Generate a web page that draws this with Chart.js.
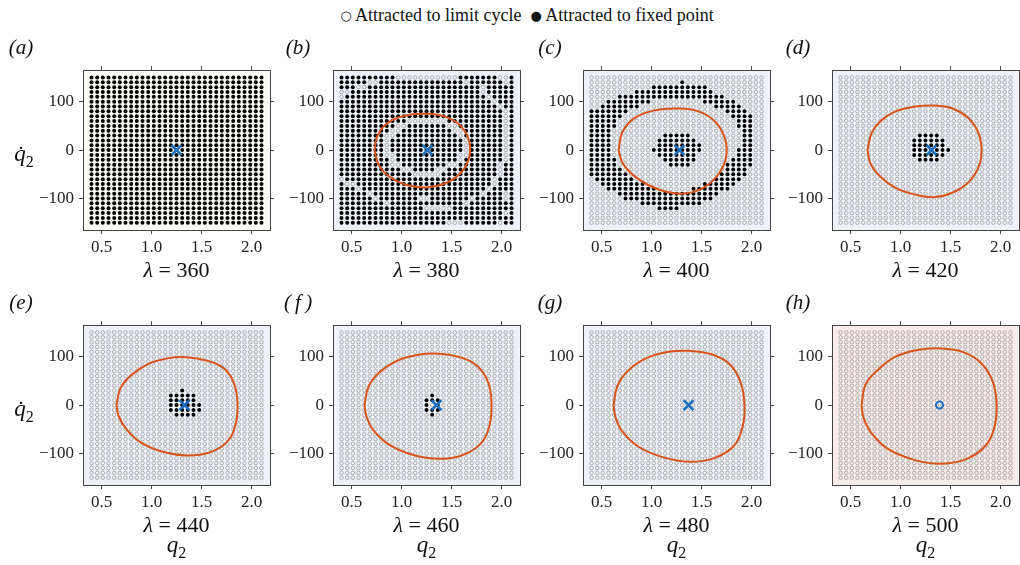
<!DOCTYPE html>
<html lang="en">
<head>
<meta charset="UTF-8">
<title>Basins of attraction</title>
<script src="https://cdn.jsdelivr.net/npm/chart.js"></script>
<style>
    body { margin: 0; background: #fff; font-family: 'Liberation Serif', serif; }
    #page { position: relative; width: 1020px; height: 565px; overflow: hidden; }
    .panel { position: absolute; width: 252px; height: 205px; }
    .lbl { position: absolute; transform: translate(-50%, -50%); white-space: nowrap; color: #111; }
    .letter { font-size: 21px; font-style: italic; }
    .lam { font-size: 22px; }
    .axl { font-size: 23px; }
    .legend { font-size: 18px; }
    .legend .mk { font-family: 'DejaVu Sans', sans-serif; font-size: 13px; position: relative; top: -1px; }
</style>
</head>
<body>
<div id="page">
    <div class="lbl legend" style="left:527px; top:15px;">
        <span class="mk">○</span> Attracted to limit cycle &nbsp;<span class="mk">●</span> Attracted to fixed point
    </div>
</div>

<script>
// grid of initial conditions
const qGrid = [0.4, 0.457, 0.513, 0.57, 0.627, 0.683, 0.74, 0.797, 0.853, 0.91, 0.967,
    1.023, 1.08, 1.137, 1.193, 1.25, 1.307, 1.363, 1.42, 1.477, 1.533, 1.59, 1.647,
    1.703, 1.76, 1.817, 1.873, 1.93, 1.987, 2.043, 2.1];
const qdGrid = [150, 140, 130, 120, 110, 100, 90, 80, 70, 60, 50, 40, 30, 20, 10, 0,
    -10, -20, -30, -40, -50, -60, -70, -80, -90, -100, -110, -120, -130, -140, -150];

const panelLetters = ['a', 'b', 'c', 'd', 'e', 'f', 'g', 'h'];
const lambdas = [360, 380, 400, 420, 440, 460, 480, 500];
const fixedQ = [1.25, 1.26, 1.28, 1.31, 1.33, 1.35, 1.37, 1.39];
const xTicks = [0.5, 1.0, 1.5, 2.0];
const yTicks = [-100, 0, 100];

// basin maps, top row (qdot = 150) first; 1 = attracted to fixed point
const basinB = [
    '1111111111000000000001111111001',
    '1111100111111111111111011111101',
    '1110011111111111111111111011111',
    '0011111111111111111111111011111',
    '0111111111111111111111111101111',
    '1111111111111111111111111110111',
    '1111111111111111111111111111011',
    '1111111111111111111111111111101',
    '1111111111111111111111111111101',
    '1111111111110000000111111111101',
    '1111111111001111111001111111101',
    '1111111110011111111100111111101',
    '1111111100111111111110111111101',
    '1111111101111111111111011111101',
    '1111111101111111111111011111101',
    '1111111101111111111111011111101',
    '1111111100111111111110011111101',
    '1111111110111111111110111111101',
    '1111111110011111111001111111011',
    '1111111111100111100111111111011',
    '1111111111111000001111111111011',
    '0111111111111111111111111110111',
    '1001111111111111111111111110111',
    '1110111111111111111111111101111',
    '1111101111111111111111111011101',
    '1111110111111100111111101111101',
    '1111111101111111111111011111111',
    '1111111111111110000011111111111',
    '1111111111111111111111111111101',
    '1111111111111111111111111111111',
    '1111111111111111111000111111011'
];
const basinC = [
    '0000000000000000000000000000000',
    '0000000000000000100000000000000',
    '0000000000011111111110000000000',
    '0000000011111111111111000000000',
    '0000011111111111111111110000000',
    '0001111111100000000011111100000',
    '0011111110000000000000111110000',
    '1111111000000000000000001111000',
    '1111110000000000000000000111100',
    '1111100000000000000000000011100',
    '1111100000000000000000000011100',
    '1111000000000000000000000001100',
    '1111000000000111110000000001100',
    '1111000000001111111000000001100',
    '1111000000001111111100000001100',
    '1111000000011111111100000011100',
    '1111000000001111111000000011100',
    '1111100000000111111000000111100',
    '1111100000000011110000001111100',
    '1111110000000000000000001111000',
    '1111111000000000000000011111000',
    '0111111100000000000000111110000',
    '0011111111000000000011111100000',
    '0001111111110000001111111000000',
    '0000011111111111111111100000000',
    '0000001111111111111111000000000',
    '0000000001111111111100000000000',
    '0000000000001111000000000000000',
    '0000000000000000000000000000000',
    '0000000000000000000000000000000',
    '0000000000000000000000000000000'
];
// small central basins: [row, first col, last col]
const blobD = [[12, 14, 17], [13, 13, 18], [14, 13, 18], [15, 13, 19], [16, 13, 18], [17, 14, 17]];
const blobE = [[12, 16, 16], [13, 14, 18], [14, 14, 18], [15, 14, 19], [16, 14, 19], [17, 15, 18]];
const blobF = [[13, 16, 16], [14, 15, 17], [15, 15, 15], [15, 17, 17], [16, 15, 17], [17, 16, 16]];

// limit cycles [q2, qdot2]
const cycleB = [[0.73, 0], [0.76, 30], [0.86, 56], [1.03, 71], [1.25, 75], [1.45, 68], [1.6, 48],
    [1.68, 15], [1.67, -20], [1.58, -50], [1.42, -70], [1.25, -77], [1.05, -72], [0.88, -55],
    [0.77, -30], [0.73, 0]];
const cycleC = [[0.67, 0], [0.71, 38], [0.83, 66], [1.03, 82], [1.27, 86], [1.47, 80], [1.64, 58],
    [1.74, 20], [1.74, -20], [1.65, -55], [1.5, -80], [1.3, -90], [1.08, -82], [0.87, -60],
    [0.72, -30], [0.67, 0]];
const cycleD = [[0.67, 0], [0.71, 35], [0.8, 60], [0.95, 80], [1.15, 90], [1.34, 92], [1.52, 86],
    [1.67, 68], [1.77, 40], [1.81, 5], [1.79, -30], [1.7, -62], [1.55, -85], [1.35, -97],
    [1.15, -92], [0.95, -78], [0.8, -55], [0.7, -28], [0.67, 0]];
const cycleE = [[0.65, 0], [0.69, 35], [0.8, 62], [0.97, 85], [1.17, 97], [1.35, 99], [1.55, 92],
    [1.73, 75], [1.83, 42], [1.86, 0], [1.84, -40], [1.76, -75], [1.58, -98], [1.35, -104],
    [1.12, -97], [0.9, -78], [0.75, -50], [0.67, -22], [0.65, 0]];
const cycleF = [[0.63, 0], [0.67, 38], [0.78, 68], [0.96, 92], [1.17, 104], [1.37, 106], [1.58, 99],
    [1.76, 80], [1.87, 45], [1.9, 0], [1.88, -42], [1.79, -80], [1.6, -104], [1.37, -111],
    [1.12, -103], [0.88, -82], [0.72, -52], [0.65, -24], [0.63, 0]];
const cycleG = [[0.62, 0], [0.66, 40], [0.77, 72], [0.95, 97], [1.17, 110], [1.38, 112], [1.6, 105],
    [1.78, 85], [1.89, 48], [1.93, 0], [1.91, -45], [1.82, -85], [1.62, -110], [1.38, -117],
    [1.12, -108], [0.87, -86], [0.71, -55], [0.64, -25], [0.62, 0]];
const cycleH = [[0.61, 0], [0.65, 42], [0.77, 72], [0.95, 100], [1.17, 114], [1.4, 117], [1.62, 110],
    [1.8, 88], [1.92, 50], [1.96, 5], [1.94, -45], [1.85, -84], [1.65, -112], [1.38, -121],
    [1.12, -112], [0.87, -90], [0.71, -58], [0.63, -26], [0.61, 0]];

const cycles = [null, cycleB, cycleC, cycleD, cycleE, cycleF, cycleG, cycleH];
const bgColors = ['#fbfbf5', '#eef1f7', '#eef1f7', '#eef1f7', '#eef1f7', '#eef1f7', '#eef1f7', '#f7ecea'];

const plotLefts = [83, 333, 583, 832];
const plotTops = [65, 320];
const plotW = 187, plotH = 165;
const CW = 252, CH = 205;
const FONT = "'Liberation Serif', serif";

function blobRows(runs) {
    const rows = qdGrid.map(() => Array(qGrid.length).fill('0'));
    runs.forEach(([r, c0, c1]) => { for (let c = c0; c <= c1; c++) rows[r][c] = '1'; });
    return rows.map(r => r.join(''));
}

const basins = [
    qdGrid.map(() => '1'.repeat(qGrid.length)),
    basinB,
    basinC,
    blobRows(blobD),
    blobRows(blobE),
    blobRows(blobF),
    blobRows([]),
    blobRows([])
];

const areaBg = {
    id: 'areaBg',
    beforeDraw(chart, args, opts) {
        const a = chart.chartArea;
        const ctx = chart.ctx;
        ctx.save();
        ctx.fillStyle = opts.color;
        ctx.fillRect(a.left, a.top, a.right - a.left, a.bottom - a.top);
        ctx.restore();
    }
};

const page = document.getElementById('page');

function addLabel(html, cls, x, y) {
    const d = document.createElement('div');
    d.className = 'lbl ' + cls;
    d.style.left = x + 'px';
    d.style.top = y + 'px';
    d.innerHTML = html;
    page.appendChild(d);
}

function axisCfg(pos, min, max, ticks, fmt, size) {
    const horiz = pos === 'top' || pos === 'bottom';
    const main = pos === 'bottom' || pos === 'left';
    return {
        type: 'linear',
        position: pos,
        min: min,
        max: max,
        afterBuildTicks: s => { s.ticks = ticks.map(v => ({ value: v })); },
        afterFit: s => { if (horiz) s.height = size; else s.width = size; },
        ticks: {
            display: main,
            autoSkip: false,
            maxRotation: 0,
            padding: horiz ? 3 : 5,
            color: '#222',
            font: { family: FONT, size: 17 },
            callback: v => main ? fmt(v) : ''
        },
        grid: { drawOnChartArea: false, tickLength: 4, color: '#444', tickWidth: 1 },
        border: { display: true, color: '#444', width: 1 }
    };
}

function makePanel(i) {
    const col = i % 4, row = Math.floor(i / 4);
    const left = plotLefts[col], top = plotTops[row];

    const box = document.createElement('div');
    box.className = 'panel';
    box.style.left = (left - 55) + 'px';
    box.style.top = (top - 10) + 'px';
    const cv = document.createElement('canvas');
    cv.width = CW;
    cv.height = CH;
    box.appendChild(cv);
    page.appendChild(box);

    const filled = [], open = [];
    basins[i].forEach((line, r) => {
        for (let c = 0; c < line.length; c++) {
            const p = { x: qGrid[c], y: qdGrid[r] };
            (line[c] === '1' ? filled : open).push(p);
        }
    });

    const datasets = [];
    const stable = i < 7;
    datasets.push({
        data: [{ x: fixedQ[i], y: 0 }],
        pointStyle: stable ? 'crossRot' : 'circle',
        pointRadius: stable ? 7 : 3.5,
        borderWidth: stable ? 2.6 : 2,
        borderColor: '#1a6fbf',
        backgroundColor: 'rgba(0,0,0,0)',
        order: 0
    });
    if (cycles[i]) {
        datasets.push({
            data: cycles[i].map(([x, y]) => ({ x, y })),
            showLine: true,
            pointRadius: 0,
            borderColor: '#d9541a',
            borderWidth: 2,
            tension: 0.4,
            order: 1
        });
    }
    datasets.push({
        data: filled,
        pointStyle: 'circle',
        pointRadius: 2,
        borderWidth: 0,
        backgroundColor: '#000',
        order: 2
    });
    datasets.push({
        data: open,
        pointStyle: 'circle',
        pointRadius: 1.8,
        borderWidth: 0.7,
        borderColor: '#949494',
        backgroundColor: 'rgba(0,0,0,0)',
        order: 3
    });

    new Chart(cv, {
        type: 'scatter',
        data: { datasets: datasets },
        options: {
            responsive: false,
            animation: false,
            devicePixelRatio: 1,
            events: [],
            layout: { padding: 0 },
            plugins: { legend: { display: false }, tooltip: { enabled: false }, areaBg: { color: bgColors[i] } },
            scales: {
                x: axisCfg('bottom', 0.315, 2.185, xTicks, v => v.toFixed(1), 30),
                x2: axisCfg('top', 0.315, 2.185, xTicks, v => '', 10),
                y: axisCfg('left', -165, 165, yTicks, v => v < 0 ? '\u2212' + Math.abs(v) : String(v), 55),
                y2: axisCfg('right', -165, 165, yTicks, v => '', 10)
            }
        },
        plugins: [areaBg]
    });

    // texts around the panel
    const letterX = [21, 298, 550, 798][col];
    const letterY = [47, 302][row];
    const L = panelLetters[i] === 'f' ? '(&thinsp;<i>f</i>&thinsp;)' : '(<i>' + panelLetters[i] + '</i>)';
    addLabel(L, 'letter', letterX, letterY);
    addLabel('<i>λ</i> = ' + lambdas[i], 'lam', left + plotW / 2, top + plotH + 40);
    if (row === 1) addLabel('<i>q</i><sub style="font-size:16px">2</sub>', 'axl', left + plotW / 2, top + plotH + 62);
    if (col === 0) addLabel('<i>q̇</i><sub style="font-size:16px">2</sub>', 'axl', 24, top + plotH / 2 + 8);
}

for (let i = 0; i < 8; i++) makePanel(i);
</script>
</body>
</html>
